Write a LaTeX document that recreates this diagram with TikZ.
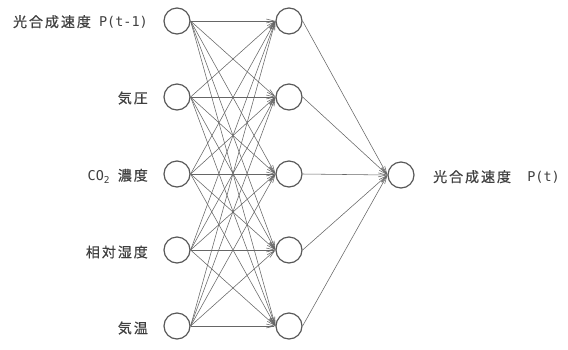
\documentclass[tikz,border=0pt]{standalone}
\usepackage{fontspec}
\setmainfont{Noto Sans CJK JP}
\newfontfamily\cjkfnt[LetterSpace=14,FakeBold=0.6]{Noto Sans CJK JP}
\newfontfamily\monofnt{DejaVu Sans Mono}
\usetikzlibrary{arrows.meta}
\begin{document}
\begin{tikzpicture}[x=1pt,y=-1pt,
 neuron/.style={circle,draw=black!65,line width=1.2pt,minimum size=26pt,inner sep=0pt},
 lab/.style={font=\fontsize{14}{16}\selectfont\cjkfnt,text=black!75,inner sep=0pt},
 conn/.style={draw=black!60,line width=0.55pt,-{Straight Barb[length=8pt,width=4pt]}}]
\fill[white] (0,0) rectangle (568,349);
\useasboundingbox (0,0) rectangle (568,349);
\foreach \i/\y in {1/21,2/97,3/174,4/250,5/326}{
  \node[neuron] (i\i) at (177,\y) {};
  \node[neuron] (h\i) at (289,\y) {};
}
\node[neuron] (o) at (401,175) {};
\node[lab,anchor=east] (l1) at (148,22) {光合成速度{\monofnt\fontsize{13.5}{16}\selectfont\ P(t-1)}};
\node[lab,anchor=east] (l2) at (148,98) {気圧};
\node[lab,anchor=east] (l3) at (148,176) {{\monofnt\fontsize{13.5}{16}\selectfont CO\raisebox{-0.35ex}{\fontsize{9.5}{10}\selectfont 2}\ }濃度};
\node[lab,anchor=east] (l4) at (148,252) {相対湿度};
\node[lab,anchor=east] (l5) at (148,328) {気温};
\node[lab,anchor=west] (lo) at (433,177) {光合成速度{\monofnt\fontsize{13.5}{16}\selectfont\ \ P(t)}};
\foreach \i in {1,...,5}{
  \foreach \j in {1,...,5}{
    \draw[conn] (i\i.east) -- (h\j.west);
  }
}
\foreach \j in {1,...,5}{
  \draw[conn] (h\j.east) -- (o.west);
}
\end{tikzpicture}
\end{document}
